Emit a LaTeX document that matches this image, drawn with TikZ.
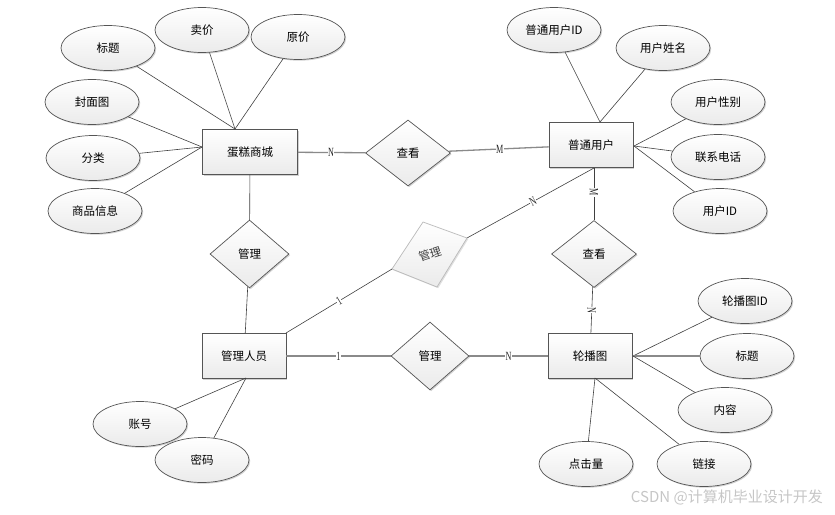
\documentclass[tikz,border=0pt]{standalone}
\usepackage{fontspec}
\setmainfont{Noto Sans CJK SC}
\newfontfamily\cjk{Noto Sans CJK SC}
\newfontfamily\lblfont[FakeStretch=0.65]{Liberation Serif}
\usetikzlibrary{shapes.geometric,shadows}
\definecolor{bd}{HTML}{555555}
\definecolor{ln}{HTML}{404040}
\definecolor{hl}{HTML}{8A8A8A}
\begin{document}
\begin{tikzpicture}[x=1pt,y=-1pt,
  every node/.style={font=\cjk\fontsize{11.5}{13}\selectfont},
  shadowed/.style={drop shadow={shadow xshift=1.2pt,shadow yshift=-1.2pt,opacity=0.18,fill=black}},
  ent/.style={rectangle,draw=bd,line width=0.7pt,minimum width=84pt,minimum height=45pt,inner sep=0pt,
    top color=white,bottom color=gray!16,shadowed},
  rel/.style={diamond,draw=bd,line width=0.7pt,inner sep=0pt,top color=white,bottom color=gray!16,shadowed},
  attr/.style={ellipse,draw=bd,line width=0.7pt,minimum width=94pt,minimum height=45pt,inner sep=0pt,
    top color=white,bottom color=gray!16,shadowed},
  conn/.style={draw=ln,line width=0.6pt},
  hconn/.style={draw=hl,line width=1.3pt},
  card/.style={font=\lblfont\fontsize{12.5}{13}\selectfont,fill=white,inner sep=0.4pt,text=black!85}
]
\useasboundingbox (0,0) rectangle (835,514);

% connector end points
\coordinate (dgT) at (235,129);
\coordinate (dgL) at (202,147);
\coordinate (ptT) at (600,122);
\coordinate (ptR) at (634,146);
\coordinate (ptB) at (594,168);
\coordinate (lbR) at (633,356);
\coordinate (lbB) at (595,378);
\coordinate (glB) at (246,378);
\coordinate (glNE) at (286,333);
\coordinate (g3t) at (423,222);
\coordinate (g3r) at (467,238);
\coordinate (g3b) at (437,287);
\coordinate (g3l) at (392,269);

% entities
\node[ent,minimum width=95pt] (dg) at (250,152) {蛋糕商城};
\node[ent] (pt) at (591,145) {普通用户};
\node[ent] (gl) at (244,356) {管理人员};
\node[ent] (lb) at (590,356) {轮播图};

% relationships
\node[rel,minimum width=85pt,minimum height=66pt] (ck1) at (408,153) {查看};
\node[rel,minimum width=79pt,minimum height=68pt] (gl1) at (249.5,254) {管理};
\node[rel,minimum width=85pt,minimum height=67pt] (ck2) at (594,254) {查看};
\node[rel,minimum width=78pt,minimum height=68pt] (gl2) at (430,356) {管理};
\fill[black,opacity=0.12] ([shift={(1.2,1.2)}]g3t) -- ([shift={(1.2,1.2)}]g3r) -- ([shift={(1.2,1.2)}]g3b) -- ([shift={(1.2,1.2)}]g3l) -- cycle;
\shade[top color=white,bottom color=gray!16] (g3t) -- (g3r) -- (g3b) -- (g3l) -- cycle;
\draw[draw=gray!55,line width=0.7pt] (g3t) -- (g3r) -- (g3b) -- (g3l) -- cycle;
\node[rotate=18,text=black!75,inner sep=0pt] (gl3) at (430,254) {管理};

% attributes of 蛋糕商城
\node[attr] (a1) at (108,48) {标题};
\node[attr] (a2) at (202,30) {卖价};
\node[attr] (a3) at (298,37) {原价};
\node[attr] (a4) at (92,102) {封面图};
\node[attr] (a5) at (93,158) {分类};
\node[attr] (a6) at (95,211) {商品信息};
% attributes of 普通用户
\node[attr] (b1) at (554,30) {普通用户ID};
\node[attr] (b2) at (663,48) {用户姓名};
\node[attr] (b3) at (718,102) {用户性别};
\node[attr] (b4) at (718,157) {联系电话};
\node[attr] (b5) at (720,211) {用户ID};
% attributes of 轮播图
\node[attr] (c1) at (745,301) {轮播图ID};
\node[attr] (c2) at (747,356) {标题};
\node[attr] (c3) at (725,410) {内容};
\node[attr] (c4) at (586,464) {点击量};
\node[attr] (c5) at (704,464) {链接};
% attributes of 管理人员
\node[attr] (d1) at (140,424) {账号};
\node[attr] (d2) at (202,460) {密码};

% attribute lines
\draw[conn] (a1) -- (dgT);
\draw[conn] (a2) -- (dgT);
\draw[conn] (a3) -- (dgT);
\draw[conn] (a4) -- (dgL);
\draw[conn] (a5) -- (dgL);
\draw[conn] (a6) -- (dgL);
\draw[conn] (b1) -- (ptT);
\draw[conn] (b2) -- (ptT);
\draw[conn] (b3) -- (ptR);
\draw[conn] (b4) -- (ptR);
\draw[conn] (b5) -- (ptR);
\draw[conn] (c1) -- (lbR);
\draw[hconn] (c2) -- (lbR);
\draw[conn] (c3) -- (lbR);
\draw[conn] (c4) -- (lbB);
\draw[conn] (c5) -- (lbB);
\draw[conn] (d1) -- (glB);
\draw[conn] (d2) -- (glB);

% relationship lines
\draw[hconn] (dg) -- node[card,pos=0.49] (l1) {N} (ck1);
\draw[hconn] (ck1) -- node[card,pos=0.51] (l2) {M} (pt);
\draw[conn] (dg) -- (gl1);
\draw[conn] (gl1) -- (gl);
\draw[conn] (g3r) -- node[card,pos=0.52,sloped] (l3) {N} (ptB);
\draw[conn] (glNE) -- node[card,pos=0.5,sloped] (l4) {1} (g3l);
\draw[conn] (ptB) -- node[card,pos=0.47,rotate=-90] (l5) {M} (ck2);
\draw[conn] (ck2) -- node[card,pos=0.5,rotate=-90] (l6) {N} (lb);
\draw[hconn] (gl) -- node[card,pos=0.5] (l7) {1} (gl2);
\draw[hconn] (gl2) -- node[card,pos=0.5] (l8) {N} (lb);

% watermark
\node[font=\cjk\fontsize{15}{16}\selectfont,text=gray!45,anchor=east,inner sep=0pt] (wm) at (823,497) {CSDN @计算机毕业设计开发};
\end{tikzpicture}
\end{document}
